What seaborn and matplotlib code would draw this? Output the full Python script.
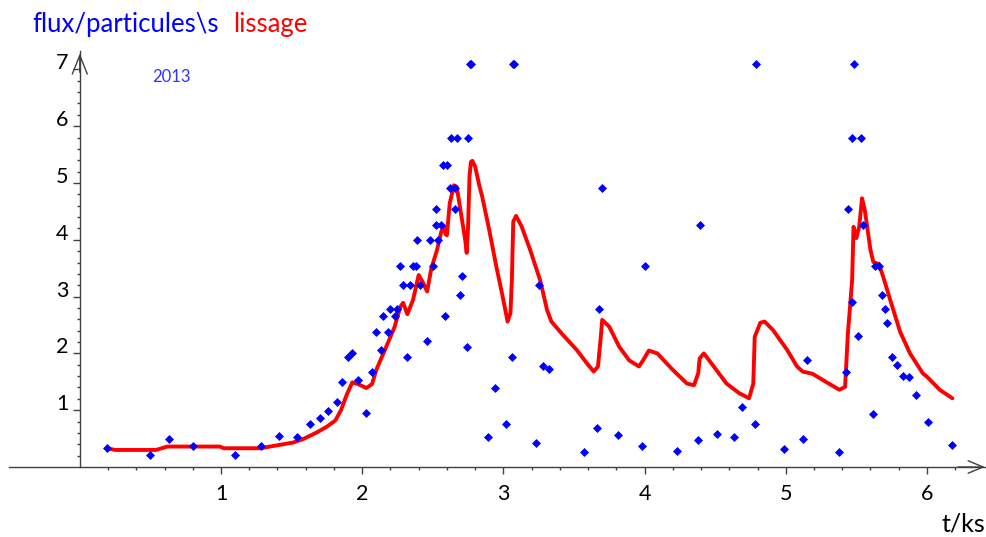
import numpy as np
import pandas as pd
import matplotlib
matplotlib.use('Agg')
import matplotlib.pyplot as plt
import seaborn as sns

# Points mesurés : flux (particules/s) en fonction du temps (ks)
t_points = [0.19, 0.50, 0.63, 0.80, 1.10, 1.28, 1.41, 1.54, 1.63, 1.70,
            1.76, 1.82, 1.86, 1.90, 1.93, 1.97, 2.03, 2.07, 2.10, 2.13,
            2.15, 2.18, 2.20, 2.23, 2.25, 2.27, 2.29, 2.32, 2.34, 2.36,
            2.38, 2.39, 2.41, 2.46, 2.48, 2.50, 2.52, 2.52, 2.54, 2.56,
            2.57, 2.59, 2.60, 2.62, 2.63, 2.66, 2.66, 2.67, 2.69, 2.71,
            2.74, 2.75, 2.766, 2.774, 2.89, 2.94, 3.02, 3.06, 3.066, 3.074,
            3.23, 3.25, 3.28, 3.32, 3.57, 3.66, 3.68, 3.70, 3.81, 3.98,
            4.00, 4.23, 4.38, 4.39, 4.51, 4.63, 4.69, 4.78, 4.79, 4.99,
            5.12, 5.15, 5.38, 5.43, 5.44, 5.47, 5.47, 5.48, 5.51, 5.53,
            5.55, 5.62, 5.63, 5.66, 5.68, 5.70, 5.72, 5.75, 5.79, 5.83,
            5.87, 5.92, 6.01, 6.18]
flux_points = [0.33, 0.22, 0.50, 0.37, 0.22, 0.37, 0.55, 0.52, 0.75, 0.87,
               0.99, 1.15, 1.49, 1.94, 2.00, 1.53, 0.95, 1.68, 2.38, 2.06,
               2.66, 2.38, 2.78, 2.66, 2.78, 3.54, 3.20, 1.94, 3.20, 3.54,
               3.54, 3.99, 3.20, 2.21, 3.99, 3.54, 4.55, 4.26, 3.99, 4.26,
               5.32, 2.65, 5.32, 4.92, 5.80, 4.92, 4.55, 5.80, 3.03, 3.37,
               2.12, 5.80, 7.09, 7.09, 0.53, 1.39, 0.75, 1.93, 7.09, 7.09,
               0.43, 3.20, 1.78, 1.73, 0.26, 0.68, 2.78, 4.92, 0.56, 0.37,
               3.54, 0.28, 0.47, 4.26, 0.58, 0.52, 1.06, 0.75, 7.09, 0.32,
               0.49, 1.89, 0.26, 1.68, 4.54, 2.91, 5.80, 7.09, 2.30, 5.80,
               4.26, 0.94, 3.53, 3.53, 3.03, 2.78, 2.54, 1.94, 1.79, 1.61,
               1.58, 1.26, 0.79, 0.39]

# Courbe de lissage
t_lissage = [0.19, 0.25, 0.54, 0.62, 0.99, 1.02, 1.28, 1.37, 1.51, 1.58,
             1.68, 1.75, 1.81, 1.85, 1.89, 1.93, 1.97, 2.03, 2.07, 2.10,
             2.15, 2.20, 2.23, 2.27, 2.29, 2.32, 2.36, 2.40, 2.43, 2.46,
             2.49, 2.53, 2.56, 2.58, 2.59, 2.60, 2.62, 2.65, 2.67, 2.70,
             2.73, 2.74, 2.75, 2.76, 2.77, 2.78, 2.80, 2.83, 2.85, 2.90,
             2.95, 2.99, 3.03, 3.05, 3.06, 3.07, 3.09, 3.13, 3.19, 3.26,
             3.31, 3.34, 3.42, 3.52, 3.59, 3.64, 3.67, 3.69, 3.70, 3.75,
             3.82, 3.89, 3.96, 3.99, 4.03, 4.09, 4.20, 4.30, 4.35, 4.38,
             4.39, 4.42, 4.49, 4.58, 4.67, 4.74, 4.77, 4.78, 4.82, 4.85,
             4.91, 5.01, 5.08, 5.12, 5.19, 5.29, 5.38, 5.42, 5.44, 5.47,
             5.48, 5.50, 5.52, 5.54, 5.56, 5.60, 5.62, 5.66, 5.69, 5.74,
             5.81, 5.88, 5.97, 6.00, 6.09, 6.18]
flux_lissage = [0.33, 0.30, 0.30, 0.36, 0.36, 0.33, 0.33, 0.37, 0.43, 0.49,
                0.61, 0.71, 0.82, 1.00, 1.27, 1.49, 1.46, 1.39, 1.46, 1.71,
                2.00, 2.29, 2.47, 2.82, 2.89, 2.69, 2.94, 3.38, 3.25, 3.09,
                3.50, 3.82, 4.14, 4.24, 4.10, 4.08, 4.64, 4.96, 4.93, 4.46,
                3.99, 3.77, 4.23, 5.11, 5.37, 5.39, 5.29, 4.95, 4.76, 4.17,
                3.53, 3.06, 2.56, 2.71, 3.29, 4.32, 4.42, 4.23, 3.82, 3.29,
                2.76, 2.56, 2.33, 2.06, 1.83, 1.68, 1.77, 2.29, 2.59, 2.47,
                2.12, 1.88, 1.77, 1.88, 2.05, 2.00, 1.71, 1.47, 1.44, 1.65,
                1.91, 2.00, 1.77, 1.47, 1.30, 1.21, 1.47, 2.29, 2.54, 2.56,
                2.41, 2.06, 1.77, 1.68, 1.64, 1.49, 1.36, 1.41, 2.35, 3.29,
                4.23, 4.03, 4.23, 4.73, 4.52, 3.82, 3.61, 3.57, 3.35, 2.94,
                2.38, 2.00, 1.65, 1.59, 1.36, 1.21]

x_major = [1, 2, 3, 4, 5, 6]
y_major = [1, 2, 3, 4, 5, 6, 7]

# Configuration
sns.set_theme(style="white")
plt.rcParams['font.family'] = ['Lato', 'DejaVu Sans']

fig = plt.figure(figsize=(9.86, 5.37), dpi=100)
ax = fig.add_axes([9.2 / 986, 70 / 537, 981.3 / 986, 417.5 / 537])

df_points = pd.DataFrame({'t': t_points, 'flux': flux_points})
df_lissage = pd.DataFrame({'t': t_lissage, 'flux': flux_lissage})

sns.lineplot(data=df_lissage, x='t', y='flux', sort=False, estimator=None,
             color='#ff0000', lw=2.8, ax=ax, zorder=2)
sns.scatterplot(data=df_points, x='t', y='flux', marker='D', s=21,
                color='#0000ff', linewidth=0, ax=ax, zorder=3)

ax.set_xlim(-0.5, 6.45)
ax.set_ylim(0, 7.35)
ax.set_xlabel('')
ax.set_ylabel('')

# Axes façon "flèches"
axis_col = '#404040'
for s in ['top', 'right']:
    ax.spines[s].set_visible(False)
ax.spines['left'].set_position(('data', 0))
ax.spines['left'].set_bounds(0, 7.32)
ax.spines['bottom'].set_bounds(-0.5, 6.42)
for s in ['left', 'bottom']:
    ax.spines[s].set_color(axis_col)
    ax.spines[s].set_linewidth(1)

ax.annotate('', xy=(6.43, 0), xytext=(6.2, 0), annotation_clip=False,
            arrowprops=dict(arrowstyle='->, head_length=0.6, head_width=0.25',
                            color=axis_col, lw=1, mutation_scale=18))
ax.annotate('', xy=(0, 7.33), xytext=(0, 6.9), annotation_clip=False,
            arrowprops=dict(arrowstyle='->, head_length=0.75, head_width=0.3',
                            color=axis_col, lw=1, mutation_scale=18))

# Graduations
ax.set_xticks(x_major)
ax.set_xticklabels([str(v) for v in x_major])
ax.set_yticks(y_major)
ax.set_yticklabels([str(v) for v in y_major])
ax.set_xticks([round(0.2 * k, 1) for k in range(1, 32) if k % 5 != 0], minor=True)
ax.set_yticks([round(0.2 * k, 1) for k in range(1, 35) if k % 5 != 0], minor=True)
ax.tick_params(which='both', bottom=True, left=True, direction='out',
               color=axis_col, width=1)
ax.tick_params(which='major', length=5, labelsize=15.5, labelcolor='black')
ax.tick_params(which='minor', length=2.5)
ax.tick_params(axis='x', pad=7)
ax.tick_params(axis='y', pad=3)
for lbl in ax.get_yticklabels():
    lbl.set_verticalalignment('baseline')

# Textes
fig.text(32 / 986, 1 - 32 / 537, 'flux/particules\\s', color='#0000ff',
         fontsize=18.5, va='baseline', ha='left')
fig.text(233 / 986, 1 - 32 / 537, 'lissage', color='#ff0000',
         fontsize=18.5, va='baseline', ha='left')
fig.text(152 / 986, 1 - 82 / 537, '2013', color='#3333ff',
         fontsize=12, va='baseline', ha='left')
fig.text(941 / 986, 1 - 531 / 537, 't/ks', color='black',
         fontsize=18, va='baseline', ha='left')

plt.savefig('out.png', dpi=100)
plt.close()
